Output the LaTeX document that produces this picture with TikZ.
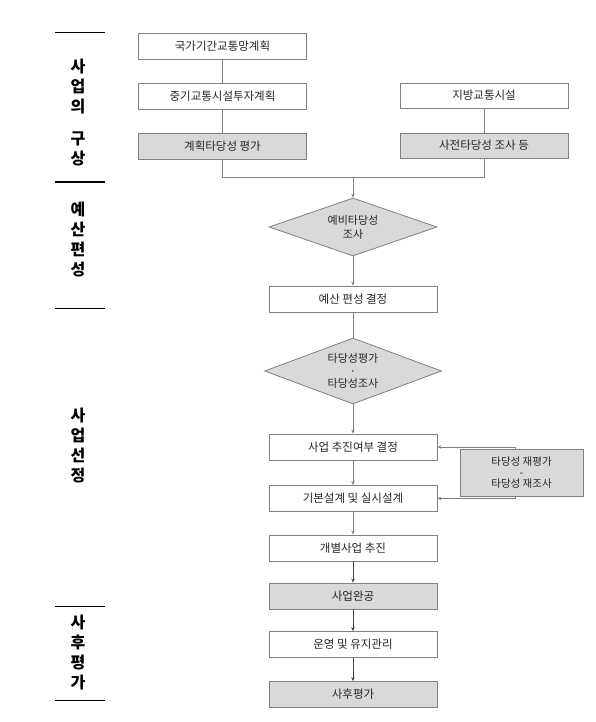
\documentclass[tikz,border=0pt]{standalone}
\usepackage{fontspec}
\setmainfont{Noto Sans CJK KR}
\usetikzlibrary{shapes.geometric,arrows.meta,calc}
\definecolor{boxgray}{HTML}{D9D9D9}
\definecolor{linegray}{HTML}{808080}
\definecolor{textgray}{HTML}{262626}

\begin{document}
\begin{tikzpicture}[x=1pt,y=-1pt,
		stage/.style={rectangle, draw=linegray, line width=0.8pt, minimum width=168pt, minimum height=26pt, inner sep=0pt, text=textgray, font=\fontsize{11.5}{13}\selectfont},
		stagegray/.style={stage, fill=boxgray},
		check/.style={diamond, draw=linegray, line width=0.8pt, fill=boxgray, inner sep=0pt, aspect=2.8, text=textgray, align=center},
		phase/.style={align=center, font=\fontsize{16}{20}\selectfont\bfseries},
		divider/.style={draw=black, line width=1pt},
		link/.style={draw=linegray, line width=0.8pt},
		flow/.style={link, -{Stealth[length=4pt,width=3.5pt]}},
		flowdark/.style={flow, draw=black!75}]
		\useasboundingbox (0,0) rectangle (595,722);
		
		% stages on the left
		\node[phase] (idea) at (78,112.5) {사\\업\\의\\[12pt]구\\상};
		\node[phase] (funding) at (78,240) {예\\산\\편\\성};
		\node[phase] (select) at (78,446) {사\\업\\선\\정};
		\node[phase] (review) at (78,652) {사\\후\\평\\가};
		\draw[divider] (55,33) -- (105,33);
		\draw[divider] (55,182) -- (105,182);
		\draw[divider] (55,308) -- (105,308);
		\draw[divider] (55,606) -- (105,606);
		\draw[divider] (55,700) -- (105,700);
		
		% planning
		\node[stage] (plan1) at (222.5,46) {국가기간교통망계획};
		\node[stage] (plan2) at (222.5,96) {중기교통시설투자계획};
		\node[stagegray] (eval1) at (222.5,146) {계획타당성 평가};
		\node[stage, minimum height=25pt] (local) at (484,95.5) {지방교통시설};
		\node[stagegray, minimum height=25pt] (pre) at (484,145.5) {사전타당성 조사 등};
		\coordinate (join) at (353,177);
		
		% main flow
		\node[check, minimum width=168pt, minimum height=58pt, font=\fontsize{11}{14}\selectfont] (prelim) at (353,227) {예비타당성\\조사};
		\node[stage] (budget) at (353,299) {예산 편성 결정};
		\node[check, minimum width=177pt, minimum height=66pt, font=\fontsize{11}{12.5}\selectfont] (valid) at (353,371) {타당성평가\\·\\타당성조사};
		\node[stage] (decide) at (353,447) {사업 추진여부 결정};
		\node[stage] (design) at (353,498.5) {기본설계 및 실시설계};
		\node[stage] (exec) at (353,548) {개별사업 추진};
		\node[stagegray] (done) at (353,596) {사업완공};
		\node[stage] (oper) at (353,644.5) {운영 및 유지관리};
		\node[stagegray] (post) at (353,694.5) {사후평가};
		\node[stagegray, minimum width=123pt, minimum height=47pt, align=center, font=\fontsize{10.5}{11}\selectfont] (re) at (521.5,472.5) {타당성 재평가\\-\\타당성 재조사};
		\coordinate (reTop) at ($(re.north west)!0.45!(re.north east)$);
		\coordinate (reBot) at ($(re.south west)!0.45!(re.south east)$);
		
		\draw[link] (plan1) -- (plan2);
		\draw[link] (plan2) -- (eval1);
		\draw[link] (local) -- (pre);
		\draw[link] (eval1.south) |- (join);
		\draw[link] (pre.south) |- (join);
		\draw[flow] (join) -- (prelim.north);
		\draw[flow] (prelim) -- (budget);
		\draw[link] (budget) -- (valid);
		\draw[flow] (valid) -- (decide);
		\draw[flow] (decide) -- (design);
		\draw[flow] (design) -- (exec);
		\draw[flowdark] (exec) -- (done);
		\draw[flowdark] (done) -- (oper);
		\draw[flowdark] (oper) -- (post);
		\draw[flow] (reTop) |- (decide.east);
		\draw[flow] (reBot) |- (design.east);
	\end{tikzpicture}
\end{document}
